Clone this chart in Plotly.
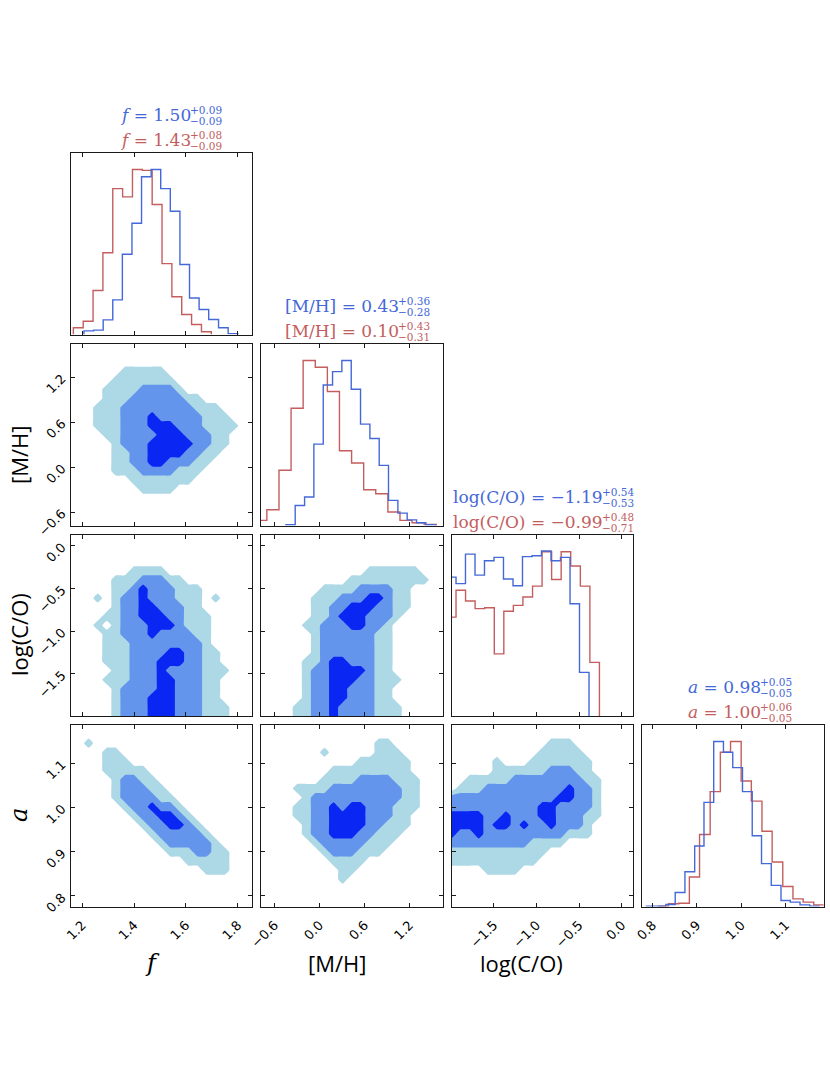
import numpy as np
import plotly.graph_objects as go

# ---------------- data ----------------
F_RANGE = [1.155, 1.855]
MH_RANGE = [-0.78, 1.64]
CO_RANGE = [-1.997, 0.133]
A_RANGE = [0.776, 1.186]

F_TICKS = [1.2, 1.4, 1.6, 1.8]
MH_TICKS = [-0.6, 0.0, 0.6, 1.2]
CO_TICKS = [-1.5, -1.0, -0.5, 0.0]
A_TICKS = [0.8, 0.9, 1.0, 1.1]

# 1-D marginal histograms (bin edges, relative heights)
f_blue_edges = [1.207, 1.244, 1.281, 1.318, 1.355, 1.392, 1.429, 1.466, 1.503,
                1.540, 1.577, 1.614, 1.651, 1.688, 1.726, 1.763, 1.800]
f_blue_counts = [0.02, 0.024, 0.08, 0.19, 0.44, 0.61, 0.865, 0.905, 0.80,
                 0.676, 0.384, 0.20, 0.137, 0.082, 0.037, 0.005]
f_red_edges = [1.166, 1.204, 1.242, 1.280, 1.318, 1.356, 1.394, 1.432, 1.470,
               1.508, 1.546, 1.584, 1.622, 1.660, 1.698]
f_red_counts = [0.037, 0.073, 0.241, 0.448, 0.80, 0.755, 0.905, 0.90, 0.713,
                0.389, 0.207, 0.11, 0.055, 0.015]

mh_blue_edges = [-0.448, -0.324, -0.199, -0.075, 0.050, 0.174, 0.298, 0.423, 0.547,
                 0.672, 0.796, 0.920, 1.045, 1.169, 1.294, 1.418, 1.542]
mh_blue_counts = [0.004, 0.11, 0.157, 0.448, 0.773, 0.847, 0.908, 0.75, 0.558,
                  0.479, 0.331, 0.138, 0.068, 0.031, 0.015, 0.004]
mh_red_edges = [-0.863, -0.702, -0.540, -0.379, -0.218, -0.056, 0.105, 0.266,
                0.428, 0.589, 0.750, 0.912, 1.073, 1.234, 1.396, 1.557]
mh_red_counts = [0.028, 0.087, 0.304, 0.645, 0.908, 0.871, 0.737, 0.411, 0.344,
                 0.197, 0.175, 0.074, 0.028, 0.015, 0.006]

co_blue_edges = [-2.056, -1.944, -1.833, -1.721, -1.610, -1.498, -1.387, -1.275,
                 -1.164, -1.052, -0.941, -0.829, -0.718, -0.606, -0.495, -0.383]
co_blue_counts = [0.767, 0.731, 0.894, 0.778, 0.857, 0.876, 0.756, 0.719, 0.880,
                  0.885, 0.911, 0.857, 0.876, 0.620, 0.241]
co_red_edges = [-2.056, -1.944, -1.832, -1.720, -1.607, -1.495, -1.383, -1.271,
                -1.159, -1.046, -0.934, -0.822, -0.710, -0.598, -0.485, -0.373, -0.261]
co_red_counts = [0.546, 0.694, 0.635, 0.593, 0.598, 0.343, 0.578, 0.611, 0.657,
                 0.717, 0.907, 0.754, 0.907, 0.828, 0.717, 0.296]

a_blue_edges = [0.786, 0.808, 0.830, 0.851, 0.873, 0.895, 0.916, 0.938, 0.960, 0.981,
                1.003, 1.025, 1.046, 1.068, 1.090, 1.111, 1.133, 1.155, 1.176]
a_blue_counts = [0.002, 0.002, 0.011, 0.077, 0.191, 0.333, 0.573, 0.908, 0.849,
                 0.764, 0.632, 0.389, 0.236, 0.116, 0.033, 0.024, 0.009, 0.002]
a_red_edges = [0.813, 0.836, 0.859, 0.883, 0.906, 0.930, 0.953, 0.976, 1.000,
               1.023, 1.047, 1.070, 1.094, 1.117, 1.140, 1.164, 1.187]
a_red_counts = [0.002, 0.015, 0.018, 0.162, 0.396, 0.632, 0.849, 0.908, 0.691,
                0.580, 0.414, 0.245, 0.110, 0.042, 0.024, 0.009]

# 2-D credible-region level maps (0 none, 1 outer, 2 middle, 3 inner),
# 21x21 grid spanning each panel, rows listed top -> bottom
grid_mh_f = [
    "000000000000000000000", "000000000000000000000", "000000000000000000000",
    "000000111110000000000", "000001111111000000000", "000011112222100000000",
    "000011122222211000000", "000111222222221110000", "000111222322222111000",
    "000111222333222111100", "000011222233322211000", "000001222333332211000",
    "000001122333322110000", "000001122332221100000", "000001112222111000000",
    "000000011111110000000", "000000001111000000000", "000000000000000000000",
    "000000000000000000000", "000000000000000000000", "000000000000000000000"]
grid_co_f = [
    "000000000000000000000", "000000000000000000000", "000000000000000000000",
    "000000000000000000000", "000000011110000000000", "000001112221100000000",
    "000001123222111000000", "000101223222111010000", "000001223322211000000",
    "000011223332211100000", "000101222333211100000", "000011222322221100000",
    "000011122222222100000", "000011122223322110000", "000011122233322110000",
    "000001122232222111000", "000011122233222110000", "000001222233222110000",
    "000001222333222110000", "000001222333222111000", "000001222333222111000"]
grid_a_f = [
    "000000000000000000000", "000000000000000000000", "001000000000000000000",
    "000011000000000000000", "000011100000000000000", "000011111000000000000",
    "000001221100000000000", "000001222110000000000", "000001222211000000000",
    "000000122322100000000", "000000012233210000000", "000000001223321000000",
    "000000000122222100000", "000000000012222210000", "000000000001112211000",
    "000000000000011111000", "000000000000000111000", "000000000000000000000",
    "000000000000000000000", "000000000000000000000", "000000000000000000000"]
grid_co_mh = [
    "000000000000000000000", "000000000000000000000", "000000000000000000000",
    "000000000000000000000", "000000000000111111000", "000000000011111111100",
    "000000011112222110000", "000000111222332110000", "000000112233322110000",
    "000000112333222100000", "000001122233221000000", "000000122222211000000",
    "000000122222211000000", "000000122222211000000", "000001123322211000000",
    "000001223333211000000", "000001223332211100000", "000001223322211000000",
    "000001223322211000000", "000011223222211100000", "000011223222211100000"]
grid_a_mh = [
    "000000000000000000000", "000000000000000000000", "000000000000011000000",
    "000000010000011100000", "000000000001111110000", "000000001111111110000",
    "000000011112222111000", "000011112222222211000", "000001222222222211000",
    "000011223233222111000", "000011223333222110000", "000001223333221110000",
    "000001223332211100000", "000000122222111000000", "000000012221110000000",
    "000000001111000000000", "000000000110000000000", "000000000100000000000",
    "000000000000000000000", "000000000000000000000", "000000000000000000000"]
grid_a_co = [
    "000000000000000000000", "000000000000000000000", "000000000001110000000",
    "000000000011111000000", "000001000111111100000", "000001111112221100000",
    "001111122222222110000", "011122222222232210000", "222222222222332210000",
    "222222222233222210000", "333322322233222110000", "333323323223222100000",
    "322322222222211100000", "222222222111100000000", "111111111110000000000",
    "111111111100000000000", "000011110000000000000", "000000000000000000000",
    "000000000000000000000", "000000000000000000000", "000000000000000000000"]

TITLES = [  # label, blue value, +, -, red value, +, -
    ("<i>f</i>", "1.50", "+0.09", "\u22120.09", "1.43", "+0.08", "\u22120.09"),
    ("[M/H]", "0.43", "+0.36", "\u22120.28", "0.10", "+0.43", "\u22120.31"),
    ("log(C/O)", "\u22121.19", "+0.54", "\u22120.53", "\u22120.99", "+0.48", "\u22120.71"),
    ("<i>a</i>", "0.98", "+0.05", "\u22120.05", "1.00", "+0.06", "\u22120.05"),
]
AXIS_LABELS = ["<i>f</i>", "[M/H]", "log(C/O)", "<i>a</i>"]

# ---------------- style / layout ----------------
W, H = 830, 1075
COL_L = [70.5, 261.0, 451.5, 642.0]
ROW_T = [153.0, 344.0, 534.5, 725.0]
PW = PH = 181.5
BLUE = "#4468d8"
RED = "#c45e5e"
C_LIGHT, C_MID, C_DARK = "#add8e6", "#6495ed", "#0a26f2"
FRAME = "#1a1a1a"

RANGES = [F_RANGE, MH_RANGE, CO_RANGE, A_RANGE]
TICKS = [F_TICKS, MH_TICKS, CO_TICKS, A_TICKS]
HISTS = [
    ((f_blue_edges, f_blue_counts), (f_red_edges, f_red_counts)),
    ((mh_blue_edges, mh_blue_counts), (mh_red_edges, mh_red_counts)),
    ((co_blue_edges, co_blue_counts), (co_red_edges, co_red_counts)),
    ((a_blue_edges, a_blue_counts), (a_red_edges, a_red_counts)),
]
GRIDS = {(1, 0): grid_mh_f, (2, 0): grid_co_f, (3, 0): grid_a_f,
         (2, 1): grid_co_mh, (3, 1): grid_a_mh, (3, 2): grid_a_co}


def px(x):
    return x / W


def py(y):
    return 1 - y / H


def fmt(v):
    return f"{v:.1f}".replace("-", "\u2212")


def step_xy(edges, counts):
    xs = [edges[0]] + list(edges[:-1]) + [edges[-1]]
    ys = [0] + list(counts) + [0]
    return xs, ys


cscale = [[0, "white"], [1 / 6, "white"], [1 / 6, C_LIGHT], [3 / 6, C_LIGHT],
          [3 / 6, C_MID], [5 / 6, C_MID], [5 / 6, C_DARK], [1, C_DARK]]

fig = go.Figure()
layout = dict(width=W, height=H,
              margin=dict(l=0, r=0, t=0, b=0, pad=0, autoexpand=False),
              paper_bgcolor="white", plot_bgcolor="white", showlegend=False)

tickfont = dict(family="DejaVu Sans", size=13, color="black")
k = 0
for r in range(4):
    for c in range(r + 1):
        k += 1
        sx = "" if k == 1 else str(k)
        xref, yref = "x" + sx, "y" + sx
        xdom = [px(COL_L[c]), px(COL_L[c] + PW)]
        ydom = [py(ROW_T[r] + PH), py(ROW_T[r])]
        xa = dict(domain=xdom, anchor=yref, range=RANGES[c], tickvals=TICKS[c],
                  ticktext=[fmt(v) for v in TICKS[c]], showticklabels=(r == 3),
                  showline=True, linecolor=FRAME, linewidth=1, mirror="ticks",
                  ticks="inside", ticklen=4, tickwidth=1, tickcolor=FRAME,
                  showgrid=False, zeroline=False, tickangle=-45, tickfont=tickfont,
                  ticklabelstandoff=5, automargin=False)
        if r == c:
            (be, bc), (re_, rc) = HISTS[c]
            top = 1.1 * max(max(bc), max(rc))
            ya = dict(domain=ydom, anchor=xref, range=[0, top], showticklabels=False,
                      showline=True, linecolor=FRAME, linewidth=1, mirror=True,
                      ticks="", showgrid=False, zeroline=False, automargin=False)
            for edges, counts, col in ((re_, rc, RED), (be, bc, BLUE)):
                xs, ys = step_xy(edges, counts)
                fig.add_trace(go.Scatter(x=xs, y=ys, mode="lines", line_shape="hv",
                                         line=dict(color=col, width=1.4),
                                         xaxis=xref, yaxis=yref, hoverinfo="skip",
                                         cliponaxis=True))
        else:
            ya = dict(domain=ydom, anchor=xref, range=RANGES[r], tickvals=TICKS[r],
                      ticktext=[fmt(v) for v in TICKS[r]], showticklabels=(c == 0),
                      showline=True, linecolor=FRAME, linewidth=1, mirror="ticks",
                      ticks="inside", ticklen=4, tickwidth=1, tickcolor=FRAME,
                      showgrid=False, zeroline=False, tickangle=-45, tickfont=tickfont,
                      ticklabelstandoff=5, automargin=False)
            rows = GRIDS[(r, c)]
            z = [[int(ch) for ch in s] for s in reversed(rows)]
            gx = np.linspace(RANGES[c][0], RANGES[c][1], len(z[0]))
            gy = np.linspace(RANGES[r][0], RANGES[r][1], len(z))
            fig.add_trace(go.Contour(x=gx, y=gy, z=z, zmin=0, zmax=3, autocontour=False,
                                     contours=dict(start=0.5, end=2.5, size=1,
                                                   coloring="fill", showlines=False),
                                     line=dict(width=0, smoothing=0.3),
                                     colorscale=cscale, showscale=False,
                                     xaxis=xref, yaxis=yref, hoverinfo="skip"))
        layout["xaxis" + sx] = xa
        layout["yaxis" + sx] = ya

ann = []
# diagonal titles
SUP_LEFT = [190, 398, 601.7, 760]
for i, (lab, bv, bp, bm, rv, rp, rm) in enumerate(TITLES):
    top = ROW_T[i]
    for val, plus, minus, col, yc in ((bv, bp, bm, BLUE, top - 38), (rv, rp, rm, RED, top - 13)):
        ann.append(dict(x=px(SUP_LEFT[i] + 2), y=py(yc), xref="paper", yref="paper",
                        text=f"{lab} = {val}", showarrow=False, xanchor="right",
                        yanchor="middle", borderpad=0,
                        font=dict(family="DejaVu Serif", size=17, color=col)))
        ann.append(dict(x=px(SUP_LEFT[i] - 1), y=py(yc - 5), xref="paper", yref="paper",
                        text=plus, showarrow=False, xanchor="left", yanchor="middle",
                        borderpad=0,
                        font=dict(family="DejaVu Serif", size=10.5, color=col)))
        ann.append(dict(x=px(SUP_LEFT[i] - 1), y=py(yc + 6), xref="paper", yref="paper",
                        text=minus, showarrow=False, xanchor="left", yanchor="middle",
                        borderpad=0,
                        font=dict(family="DejaVu Serif", size=10.5, color=col)))

# axis labels
XLAB_X = [152, 337, 521]
for i in range(3):
    italic = AXIS_LABELS[i].startswith("<i>")
    ann.append(dict(x=px(XLAB_X[i]), y=py(963), xref="paper", yref="paper",
                    text=AXIS_LABELS[i], showarrow=False, xanchor="center",
                    yanchor="middle",
                    font=dict(family="DejaVu Serif" if italic else "Open Sans",
                              size=24 if italic else 22, color="black")))
YLAB_Y = [455, 635, 815]
for i in range(3):
    lab = AXIS_LABELS[i + 1]
    italic = lab.startswith("<i>")
    ann.append(dict(x=px(19), y=py(YLAB_Y[i]), xref="paper", yref="paper",
                    text=lab, showarrow=False, xanchor="center", yanchor="middle",
                    textangle=-90,
                    font=dict(family="DejaVu Serif" if italic else "Open Sans",
                              size=24 if italic else 22, color="black")))

layout["annotations"] = ann
fig.update_layout(**layout)
fig.write_html("out.html", config={"displayModeBar": False},
               post_script="document.body.style.margin='0';document.body.style.overflow='hidden';")
